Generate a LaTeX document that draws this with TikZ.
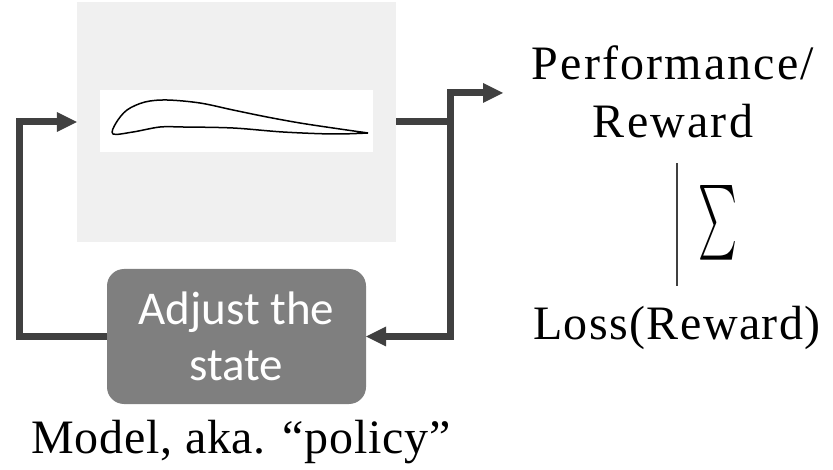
\documentclass[tikz,border=0pt]{standalone}
\usepackage{fontspec}
\usepackage{graphicx}
\setmainfont{Liberation Serif}
\newfontfamily\boxfont{Carlito}
\usetikzlibrary{arrows.meta}
\definecolor{linegray}{HTML}{404040}
\definecolor{panelgray}{HTML}{F0F0F0}
\definecolor{boxgray}{HTML}{7F7F7F}

\begin{document}
\begin{tikzpicture}[x=1pt,y=-1pt,
    flow/.style={draw=linegray, line width=7pt, -{Triangle[length=20pt,width=20pt,line width=0pt]}},
    captext/.style={font=\fontsize{48}{58}\selectfont\addfontfeature{LetterSpace=#1}, inner sep=0pt, align=center},
    captext/.default=3,
  ]
  \useasboundingbox (0,0) rectangle (833,470);
  % simulation panel, airfoil on a white strip
  \node[fill=panelgray, minimum width=319pt, minimum height=240pt, inner sep=0pt] (sim) at (236.5,122) {};
  \node[fill=white, minimum width=273pt, minimum height=62pt, inner sep=0pt] (foil) at (236.5,121) {};
  \draw[line width=1.5pt, line join=round] plot[smooth, tension=0.55] coordinates {(368,133) (333,128) (300,123) (267,117) (233,110) (200,103) (167,100) (145,102) (127,110) (116,123) (113,134) (133,132) (160,127) (183,127) (233,128) (283,132) (333,134) (368,133)};
  % the policy
  \node[fill=boxgray, rounded corners=17pt, minimum width=259pt, minimum height=135pt, text=white, font=\boxfont\fontsize{47}{56}\selectfont, align=center] (adjust) at (236.5,336.5) {Adjust the\\state};
  \node[captext=1.5, anchor=base] (model) at (241,453) {Model, aka. “policy”};
  % reward side
  \node[captext=4.5] (perf) at (673,92) {Performance/\\Reward};
  \node[captext, anchor=base] (loss) at (677,340) {Loss(Reward)};
  \draw[linegray, line width=1.2pt, shorten <=25pt, shorten >=20pt] (perf.south -| loss) -- (loss.north)
    node[midway, right=21pt, inner sep=0pt, black] {\resizebox{39pt}{56pt}{$\sum$}};
  % feedback loop
  \coordinate (jct) at (450,122);
  \coordinate (back) at (19.5,122);
  \coordinate (perfin) at (503,93);
  \draw[flow] (sim.east) -- (jct) |- (perfin);
  \draw[flow] (jct) |- (adjust.east);
  \draw[flow] (adjust.west) -| (back) -- (sim.west);
\end{tikzpicture}
\end{document}
